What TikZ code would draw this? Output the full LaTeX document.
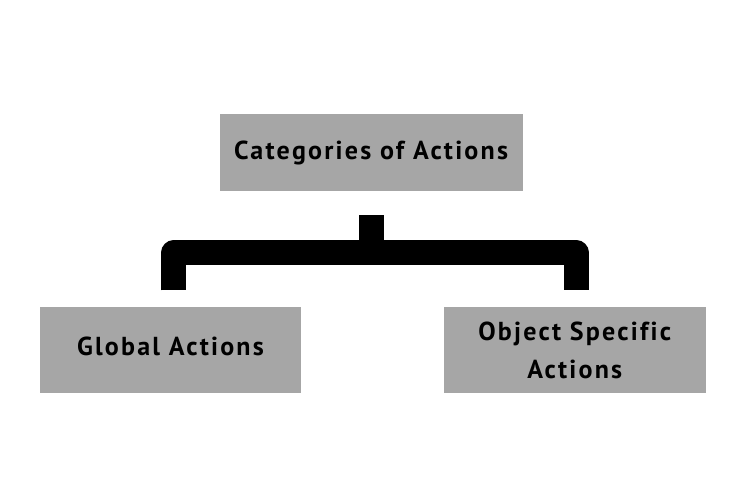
\documentclass[tikz,border=0pt]{standalone}
\usepackage{fontspec}
\setmainfont{PT Sans}[LetterSpace=8.5, Ligatures=NoCommon]
\usepackage{tikz}
\usetikzlibrary{positioning, calc}
\definecolor{boxgray}{HTML}{A6A6A6}
\tikzset{main node/.style={rectangle, fill=boxgray, text=black, font=\bfseries\fontsize{26}{38}\selectfont, align=center, inner sep=0pt},}
\tikzset{bracket/.style={line width=25pt, line join=round, draw=black},}

\begin{document}
\begin{tikzpicture}[x=1pt, y=1pt]
				\useasboundingbox (0,0) rectangle (750,-500);
				% Boxes
				\node[main node, minimum width=303pt, minimum height=76.5pt] at (371,-152.5) (cat) {Categories of Actions};
				\node[main node, minimum width=261.7pt, minimum height=86.7pt, text depth=8pt] [below left = 115.5pt and -82.2pt of cat] (glob) {Global Actions};
				\node[main node, minimum width=261.7pt, minimum height=86.7pt] [below right = 115.5pt and -79pt of cat] (obj) {Object Specific\\Actions};
				% Bracket
				\draw[bracket] ($(cat.south)+(0,-24.5)$) -- ($(cat.south)+(0,-62)$);
				\draw[bracket] ($(glob.north)+(3.5,16)$) |- ($(cat.south)+(0,-61.7)$) -| ($(obj.north)+(1.3,16)$);
			\end{tikzpicture}
\end{document}
